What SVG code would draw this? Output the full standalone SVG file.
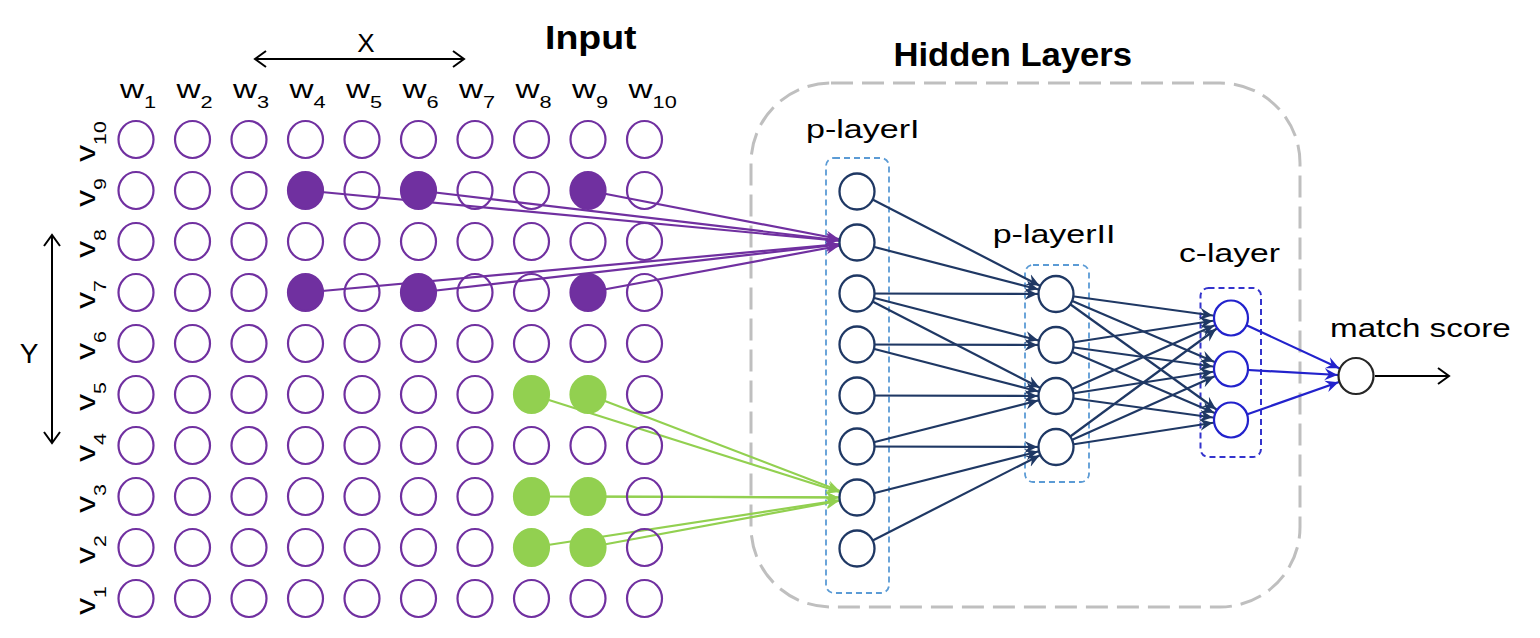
<svg xmlns="http://www.w3.org/2000/svg" width="1540" height="638" viewBox="0 0 1540 638">
<defs>
<style>
.g{fill:none;stroke:#7030a0;stroke-width:2.2}
.fp{fill:#7030a0;stroke:#7030a0;stroke-width:2.2}
.fg{fill:#92d050;stroke:#92d050;stroke-width:2.2}
.h{fill:#fff;stroke:#1f3864;stroke-width:2.3}
.c{fill:#fff;stroke:#2222cc;stroke-width:2.2}
.m{fill:#fff;stroke:#262626;stroke-width:2.2}
.t{font-family:"Liberation Sans",Arial,sans-serif;fill:#000}
.b{font-weight:bold}
.lp{fill:none;stroke:#7030a0;stroke-width:2.2;marker-end:url(#ap)}
.lg{fill:none;stroke:#92d050;stroke-width:2.2;marker-end:url(#ag)}
.ln{fill:none;stroke:#1f3864;stroke-width:2.2;marker-end:url(#an)}
.lb{fill:none;stroke:#2222cc;stroke-width:2.2;marker-end:url(#ab)}
.lk{fill:none;stroke:#000;stroke-width:2}
.box{fill:none;stroke:#5b9bd5;stroke-width:1.8;stroke-dasharray:6 4}
</style>
<marker id="ap" markerUnits="userSpaceOnUse" markerWidth="40" markerHeight="20" refX="31.5" refY="10" orient="auto"><path d="M0,4 L13,10 L0,16 L4.5,10 z" fill="#7030a0"/></marker>
<marker id="ag" markerUnits="userSpaceOnUse" markerWidth="40" markerHeight="20" refX="31.5" refY="10" orient="auto"><path d="M0,4 L13,10 L0,16 L4.5,10 z" fill="#92d050"/></marker>
<marker id="an" markerUnits="userSpaceOnUse" markerWidth="40" markerHeight="20" refX="31.5" refY="10" orient="auto"><path d="M0,4 L13,10 L0,16 L4.5,10 z" fill="#1f3864"/></marker>
<marker id="ab" markerUnits="userSpaceOnUse" markerWidth="40" markerHeight="20" refX="31.5" refY="10" orient="auto"><path d="M0,4 L13,10 L0,16 L4.5,10 z" fill="#2222cc"/></marker>
<marker id="ao" markerUnits="userSpaceOnUse" markerWidth="16" markerHeight="20" refX="12" refY="10" orient="auto-start-reverse"><path d="M1,2 L12,10 L1,18" fill="none" stroke="#000" stroke-width="2"/></marker>
</defs>
<rect width="1540" height="638" fill="#fff"/>

<g id="titles">
<text class="t b" x="545" y="49.3" font-size="33.5" textLength="91.5" lengthAdjust="spacingAndGlyphs">Input</text>
<text class="t b" x="893.5" y="66" font-size="34" textLength="238.5" lengthAdjust="spacingAndGlyphs">Hidden Layers</text>
<text class="t" x="366" y="51.7" font-size="26" text-anchor="middle">X</text>
<text class="t" x="29" y="363" font-size="28" text-anchor="middle">Y</text>
</g>

<g id="axis-arrows">
<path class="lk" d="M255,59 L464,59" marker-start="url(#ao)" marker-end="url(#ao)"/>
<path class="lk" d="M52,235 L52,443" marker-start="url(#ao)" marker-end="url(#ao)"/>
</g>

<g id="w-labels" class="t" font-size="26">
<text transform="translate(120,98.3) scale(1.28,1)">w<tspan font-size="17" dy="10">1</tspan></text>
<text transform="translate(176.5,98.3) scale(1.28,1)">w<tspan font-size="17" dy="10">2</tspan></text>
<text transform="translate(233,98.3) scale(1.28,1)">w<tspan font-size="17" dy="10">3</tspan></text>
<text transform="translate(289.5,98.3) scale(1.28,1)">w<tspan font-size="17" dy="10">4</tspan></text>
<text transform="translate(346,98.3) scale(1.28,1)">w<tspan font-size="17" dy="10">5</tspan></text>
<text transform="translate(402.5,98.3) scale(1.28,1)">w<tspan font-size="17" dy="10">6</tspan></text>
<text transform="translate(459,98.3) scale(1.28,1)">w<tspan font-size="17" dy="10">7</tspan></text>
<text transform="translate(515.5,98.3) scale(1.28,1)">w<tspan font-size="17" dy="10">8</tspan></text>
<text transform="translate(572,98.3) scale(1.28,1)">w<tspan font-size="17" dy="10">9</tspan></text>
<text transform="translate(628.5,98.3) scale(1.28,1)">w<tspan font-size="17" dy="10">10</tspan></text>
</g>

<g id="v-labels" class="t" font-size="27" text-anchor="middle">
<text transform="translate(95,141.5) rotate(-90) scale(1.25,1)">v<tspan font-size="17" dy="11">10</tspan></text>
<text transform="translate(95,192.5) rotate(-90) scale(1.25,1)">v<tspan font-size="17" dy="11">9</tspan></text>
<text transform="translate(95,243.5) rotate(-90) scale(1.25,1)">v<tspan font-size="17" dy="11">8</tspan></text>
<text transform="translate(95,294.5) rotate(-90) scale(1.25,1)">v<tspan font-size="17" dy="11">7</tspan></text>
<text transform="translate(95,345.5) rotate(-90) scale(1.25,1)">v<tspan font-size="17" dy="11">6</tspan></text>
<text transform="translate(95,396.5) rotate(-90) scale(1.25,1)">v<tspan font-size="17" dy="11">5</tspan></text>
<text transform="translate(95,447.5) rotate(-90) scale(1.25,1)">v<tspan font-size="17" dy="11">4</tspan></text>
<text transform="translate(95,498.5) rotate(-90) scale(1.25,1)">v<tspan font-size="17" dy="11">3</tspan></text>
<text transform="translate(95,549.5) rotate(-90) scale(1.25,1)">v<tspan font-size="17" dy="11">2</tspan></text>
<text transform="translate(95,600.5) rotate(-90) scale(1.25,1)">v<tspan font-size="17" dy="11">1</tspan></text>
</g>

<g id="hidden-layers-box">
<rect x="751" y="83" width="549" height="524" rx="80" ry="80" fill="none" stroke="#bfbfbf" stroke-width="3" stroke-dasharray="22 9"/>
</g>
<g id="p-layerI-box">
<rect class="box" x="826" y="158" width="63" height="435" rx="8"/>
<text class="t" x="806" y="138.3" font-size="26" textLength="113.5" lengthAdjust="spacingAndGlyphs">p-layerI</text>
</g>
<g id="p-layerII-box">
<rect class="box" x="1025" y="265" width="64" height="217" rx="8"/>
<text class="t" x="992.7" y="243.3" font-size="26" textLength="122.8" lengthAdjust="spacingAndGlyphs">p-layerII</text>
</g>
<g id="c-layer-box">
<rect x="1200.5" y="288" width="60.5" height="169" rx="8" fill="none" stroke="#3333cc" stroke-width="2" stroke-dasharray="6 4"/>
<text class="t" x="1179" y="261.7" font-size="26" textLength="101" lengthAdjust="spacingAndGlyphs">c-layer</text>
</g>
<g id="match-label">
<text class="t" x="1330" y="336.7" font-size="26" textLength="180.7" lengthAdjust="spacingAndGlyphs">match score</text>
</g>

<g id="connectors">
<path class="lp" d="M305.5,190.5 L857,242.5"/>
<path class="lp" d="M418.5,190.5 L857,242.5"/>
<path class="lp" d="M588,190.5 L857,242.5"/>
<path class="lp" d="M305.5,292.5 L857,242.5"/>
<path class="lp" d="M418.5,292.5 L857,242.5"/>
<path class="lp" d="M588,292.5 L857,242.5"/>
<path class="lg" d="M531.5,394.5 L857,497.5"/>
<path class="lg" d="M588,394.5 L857,497.5"/>
<path class="lg" d="M531.5,496.5 L857,497.5"/>
<path class="lg" d="M588,496.5 L857,497.5"/>
<path class="lg" d="M531.5,547.5 L857,497.5"/>
<path class="lg" d="M588,547.5 L857,497.5"/>
<path class="ln" d="M857,191.5 L1056,294"/>
<path class="ln" d="M857,242.5 L1056,294"/>
<path class="ln" d="M857,293.5 L1056,294"/>
<path class="ln" d="M857,293.5 L1056,345"/>
<path class="ln" d="M857,293.5 L1056,396"/>
<path class="ln" d="M857,344.5 L1056,345"/>
<path class="ln" d="M857,344.5 L1056,396"/>
<path class="ln" d="M857,395.5 L1056,396"/>
<path class="ln" d="M857,446.5 L1056,396"/>
<path class="ln" d="M857,446.5 L1056,447"/>
<path class="ln" d="M857,497.5 L1056,447"/>
<path class="ln" d="M857,548.5 L1056,447"/>
<path class="ln" d="M1056,294 L1231,318"/>
<path class="ln" d="M1056,294 L1231,369"/>
<path class="ln" d="M1056,294 L1231,420"/>
<path class="ln" d="M1056,345 L1231,318"/>
<path class="ln" d="M1056,345 L1231,369"/>
<path class="ln" d="M1056,345 L1231,420"/>
<path class="ln" d="M1056,396 L1231,318"/>
<path class="ln" d="M1056,396 L1231,369"/>
<path class="ln" d="M1056,396 L1231,420"/>
<path class="ln" d="M1056,447 L1231,318"/>
<path class="ln" d="M1056,447 L1231,369"/>
<path class="ln" d="M1056,447 L1231,420"/>
<path class="lb" d="M1231,318 L1356,376"/>
<path class="lb" d="M1231,369 L1356,376"/>
<path class="lb" d="M1231,420 L1356,376"/>
<path class="lk" d="M1375,376 L1449,376" marker-end="url(#ao)"/>
</g>

<g id="grid">
<g id="w1v10"><ellipse class="g" cx="136" cy="139.5" rx="17.5" ry="18.5"/></g>
<g id="w2v10"><ellipse class="g" cx="192.5" cy="139.5" rx="17.5" ry="18.5"/></g>
<g id="w3v10"><ellipse class="g" cx="249" cy="139.5" rx="17.5" ry="18.5"/></g>
<g id="w4v10"><ellipse class="g" cx="305.5" cy="139.5" rx="17.5" ry="18.5"/></g>
<g id="w5v10"><ellipse class="g" cx="362" cy="139.5" rx="17.5" ry="18.5"/></g>
<g id="w6v10"><ellipse class="g" cx="418.5" cy="139.5" rx="17.5" ry="18.5"/></g>
<g id="w7v10"><ellipse class="g" cx="475" cy="139.5" rx="17.5" ry="18.5"/></g>
<g id="w8v10"><ellipse class="g" cx="531.5" cy="139.5" rx="17.5" ry="18.5"/></g>
<g id="w9v10"><ellipse class="g" cx="588" cy="139.5" rx="17.5" ry="18.5"/></g>
<g id="w10v10"><ellipse class="g" cx="644.5" cy="139.5" rx="17.5" ry="18.5"/></g>

<g id="w1v9"><ellipse class="g" cx="136" cy="190.5" rx="17.5" ry="18.5"/></g>
<g id="w2v9"><ellipse class="g" cx="192.5" cy="190.5" rx="17.5" ry="18.5"/></g>
<g id="w3v9"><ellipse class="g" cx="249" cy="190.5" rx="17.5" ry="18.5"/></g>
<g id="w4v9"><ellipse class="fp" cx="305.5" cy="190.5" rx="17.5" ry="18.5"/></g>
<g id="w5v9"><ellipse class="g" cx="362" cy="190.5" rx="17.5" ry="18.5"/></g>
<g id="w6v9"><ellipse class="fp" cx="418.5" cy="190.5" rx="17.5" ry="18.5"/></g>
<g id="w7v9"><ellipse class="g" cx="475" cy="190.5" rx="17.5" ry="18.5"/></g>
<g id="w8v9"><ellipse class="g" cx="531.5" cy="190.5" rx="17.5" ry="18.5"/></g>
<g id="w9v9"><ellipse class="fp" cx="588" cy="190.5" rx="17.5" ry="18.5"/></g>
<g id="w10v9"><ellipse class="g" cx="644.5" cy="190.5" rx="17.5" ry="18.5"/></g>

<g id="w1v8"><ellipse class="g" cx="136" cy="241.5" rx="17.5" ry="18.5"/></g>
<g id="w2v8"><ellipse class="g" cx="192.5" cy="241.5" rx="17.5" ry="18.5"/></g>
<g id="w3v8"><ellipse class="g" cx="249" cy="241.5" rx="17.5" ry="18.5"/></g>
<g id="w4v8"><ellipse class="g" cx="305.5" cy="241.5" rx="17.5" ry="18.5"/></g>
<g id="w5v8"><ellipse class="g" cx="362" cy="241.5" rx="17.5" ry="18.5"/></g>
<g id="w6v8"><ellipse class="g" cx="418.5" cy="241.5" rx="17.5" ry="18.5"/></g>
<g id="w7v8"><ellipse class="g" cx="475" cy="241.5" rx="17.5" ry="18.5"/></g>
<g id="w8v8"><ellipse class="g" cx="531.5" cy="241.5" rx="17.5" ry="18.5"/></g>
<g id="w9v8"><ellipse class="g" cx="588" cy="241.5" rx="17.5" ry="18.5"/></g>
<g id="w10v8"><ellipse class="g" cx="644.5" cy="241.5" rx="17.5" ry="18.5"/></g>

<g id="w1v7"><ellipse class="g" cx="136" cy="292.5" rx="17.5" ry="18.5"/></g>
<g id="w2v7"><ellipse class="g" cx="192.5" cy="292.5" rx="17.5" ry="18.5"/></g>
<g id="w3v7"><ellipse class="g" cx="249" cy="292.5" rx="17.5" ry="18.5"/></g>
<g id="w4v7"><ellipse class="fp" cx="305.5" cy="292.5" rx="17.5" ry="18.5"/></g>
<g id="w5v7"><ellipse class="g" cx="362" cy="292.5" rx="17.5" ry="18.5"/></g>
<g id="w6v7"><ellipse class="fp" cx="418.5" cy="292.5" rx="17.5" ry="18.5"/></g>
<g id="w7v7"><ellipse class="g" cx="475" cy="292.5" rx="17.5" ry="18.5"/></g>
<g id="w8v7"><ellipse class="g" cx="531.5" cy="292.5" rx="17.5" ry="18.5"/></g>
<g id="w9v7"><ellipse class="fp" cx="588" cy="292.5" rx="17.5" ry="18.5"/></g>
<g id="w10v7"><ellipse class="g" cx="644.5" cy="292.5" rx="17.5" ry="18.5"/></g>

<g id="w1v6"><ellipse class="g" cx="136" cy="343.5" rx="17.5" ry="18.5"/></g>
<g id="w2v6"><ellipse class="g" cx="192.5" cy="343.5" rx="17.5" ry="18.5"/></g>
<g id="w3v6"><ellipse class="g" cx="249" cy="343.5" rx="17.5" ry="18.5"/></g>
<g id="w4v6"><ellipse class="g" cx="305.5" cy="343.5" rx="17.5" ry="18.5"/></g>
<g id="w5v6"><ellipse class="g" cx="362" cy="343.5" rx="17.5" ry="18.5"/></g>
<g id="w6v6"><ellipse class="g" cx="418.5" cy="343.5" rx="17.5" ry="18.5"/></g>
<g id="w7v6"><ellipse class="g" cx="475" cy="343.5" rx="17.5" ry="18.5"/></g>
<g id="w8v6"><ellipse class="g" cx="531.5" cy="343.5" rx="17.5" ry="18.5"/></g>
<g id="w9v6"><ellipse class="g" cx="588" cy="343.5" rx="17.5" ry="18.5"/></g>
<g id="w10v6"><ellipse class="g" cx="644.5" cy="343.5" rx="17.5" ry="18.5"/></g>

<g id="w1v5"><ellipse class="g" cx="136" cy="394.5" rx="17.5" ry="18.5"/></g>
<g id="w2v5"><ellipse class="g" cx="192.5" cy="394.5" rx="17.5" ry="18.5"/></g>
<g id="w3v5"><ellipse class="g" cx="249" cy="394.5" rx="17.5" ry="18.5"/></g>
<g id="w4v5"><ellipse class="g" cx="305.5" cy="394.5" rx="17.5" ry="18.5"/></g>
<g id="w5v5"><ellipse class="g" cx="362" cy="394.5" rx="17.5" ry="18.5"/></g>
<g id="w6v5"><ellipse class="g" cx="418.5" cy="394.5" rx="17.5" ry="18.5"/></g>
<g id="w7v5"><ellipse class="g" cx="475" cy="394.5" rx="17.5" ry="18.5"/></g>
<g id="w8v5"><ellipse class="fg" cx="531.5" cy="394.5" rx="17.5" ry="18.5"/></g>
<g id="w9v5"><ellipse class="fg" cx="588" cy="394.5" rx="17.5" ry="18.5"/></g>
<g id="w10v5"><ellipse class="g" cx="644.5" cy="394.5" rx="17.5" ry="18.5"/></g>

<g id="w1v4"><ellipse class="g" cx="136" cy="445.5" rx="17.5" ry="18.5"/></g>
<g id="w2v4"><ellipse class="g" cx="192.5" cy="445.5" rx="17.5" ry="18.5"/></g>
<g id="w3v4"><ellipse class="g" cx="249" cy="445.5" rx="17.5" ry="18.5"/></g>
<g id="w4v4"><ellipse class="g" cx="305.5" cy="445.5" rx="17.5" ry="18.5"/></g>
<g id="w5v4"><ellipse class="g" cx="362" cy="445.5" rx="17.5" ry="18.5"/></g>
<g id="w6v4"><ellipse class="g" cx="418.5" cy="445.5" rx="17.5" ry="18.5"/></g>
<g id="w7v4"><ellipse class="g" cx="475" cy="445.5" rx="17.5" ry="18.5"/></g>
<g id="w8v4"><ellipse class="g" cx="531.5" cy="445.5" rx="17.5" ry="18.5"/></g>
<g id="w9v4"><ellipse class="g" cx="588" cy="445.5" rx="17.5" ry="18.5"/></g>
<g id="w10v4"><ellipse class="g" cx="644.5" cy="445.5" rx="17.5" ry="18.5"/></g>

<g id="w1v3"><ellipse class="g" cx="136" cy="496.5" rx="17.5" ry="18.5"/></g>
<g id="w2v3"><ellipse class="g" cx="192.5" cy="496.5" rx="17.5" ry="18.5"/></g>
<g id="w3v3"><ellipse class="g" cx="249" cy="496.5" rx="17.5" ry="18.5"/></g>
<g id="w4v3"><ellipse class="g" cx="305.5" cy="496.5" rx="17.5" ry="18.5"/></g>
<g id="w5v3"><ellipse class="g" cx="362" cy="496.5" rx="17.5" ry="18.5"/></g>
<g id="w6v3"><ellipse class="g" cx="418.5" cy="496.5" rx="17.5" ry="18.5"/></g>
<g id="w7v3"><ellipse class="g" cx="475" cy="496.5" rx="17.5" ry="18.5"/></g>
<g id="w8v3"><ellipse class="fg" cx="531.5" cy="496.5" rx="17.5" ry="18.5"/></g>
<g id="w9v3"><ellipse class="fg" cx="588" cy="496.5" rx="17.5" ry="18.5"/></g>
<g id="w10v3"><ellipse class="g" cx="644.5" cy="496.5" rx="17.5" ry="18.5"/></g>

<g id="w1v2"><ellipse class="g" cx="136" cy="547.5" rx="17.5" ry="18.5"/></g>
<g id="w2v2"><ellipse class="g" cx="192.5" cy="547.5" rx="17.5" ry="18.5"/></g>
<g id="w3v2"><ellipse class="g" cx="249" cy="547.5" rx="17.5" ry="18.5"/></g>
<g id="w4v2"><ellipse class="g" cx="305.5" cy="547.5" rx="17.5" ry="18.5"/></g>
<g id="w5v2"><ellipse class="g" cx="362" cy="547.5" rx="17.5" ry="18.5"/></g>
<g id="w6v2"><ellipse class="g" cx="418.5" cy="547.5" rx="17.5" ry="18.5"/></g>
<g id="w7v2"><ellipse class="g" cx="475" cy="547.5" rx="17.5" ry="18.5"/></g>
<g id="w8v2"><ellipse class="fg" cx="531.5" cy="547.5" rx="17.5" ry="18.5"/></g>
<g id="w9v2"><ellipse class="fg" cx="588" cy="547.5" rx="17.5" ry="18.5"/></g>
<g id="w10v2"><ellipse class="g" cx="644.5" cy="547.5" rx="17.5" ry="18.5"/></g>

<g id="w1v1"><ellipse class="g" cx="136" cy="598.5" rx="17.5" ry="18.5"/></g>
<g id="w2v1"><ellipse class="g" cx="192.5" cy="598.5" rx="17.5" ry="18.5"/></g>
<g id="w3v1"><ellipse class="g" cx="249" cy="598.5" rx="17.5" ry="18.5"/></g>
<g id="w4v1"><ellipse class="g" cx="305.5" cy="598.5" rx="17.5" ry="18.5"/></g>
<g id="w5v1"><ellipse class="g" cx="362" cy="598.5" rx="17.5" ry="18.5"/></g>
<g id="w6v1"><ellipse class="g" cx="418.5" cy="598.5" rx="17.5" ry="18.5"/></g>
<g id="w7v1"><ellipse class="g" cx="475" cy="598.5" rx="17.5" ry="18.5"/></g>
<g id="w8v1"><ellipse class="g" cx="531.5" cy="598.5" rx="17.5" ry="18.5"/></g>
<g id="w9v1"><ellipse class="g" cx="588" cy="598.5" rx="17.5" ry="18.5"/></g>
<g id="w10v1"><ellipse class="g" cx="644.5" cy="598.5" rx="17.5" ry="18.5"/></g>
</g>

<g id="p-layerI">
<g id="p1-1"><ellipse class="h" cx="857" cy="191.5" rx="17.5" ry="18"/></g>
<g id="p1-2"><ellipse class="h" cx="857" cy="242.5" rx="17.5" ry="18"/></g>
<g id="p1-3"><ellipse class="h" cx="857" cy="293.5" rx="17.5" ry="18"/></g>
<g id="p1-4"><ellipse class="h" cx="857" cy="344.5" rx="17.5" ry="18"/></g>
<g id="p1-5"><ellipse class="h" cx="857" cy="395.5" rx="17.5" ry="18"/></g>
<g id="p1-6"><ellipse class="h" cx="857" cy="446.5" rx="17.5" ry="18"/></g>
<g id="p1-7"><ellipse class="h" cx="857" cy="497.5" rx="17.5" ry="18"/></g>
<g id="p1-8"><ellipse class="h" cx="857" cy="548.5" rx="17.5" ry="18"/></g>
</g>
<g id="p-layerII">
<g id="p2-1"><ellipse class="h" cx="1056" cy="294" rx="17.5" ry="18"/></g>
<g id="p2-2"><ellipse class="h" cx="1056" cy="345" rx="17.5" ry="18"/></g>
<g id="p2-3"><ellipse class="h" cx="1056" cy="396" rx="17.5" ry="18"/></g>
<g id="p2-4"><ellipse class="h" cx="1056" cy="447" rx="17.5" ry="18"/></g>
</g>
<g id="c-layer">
<g id="c-1"><ellipse class="c" cx="1231" cy="318" rx="17" ry="17.5"/></g>
<g id="c-2"><ellipse class="c" cx="1231" cy="369" rx="17" ry="17.5"/></g>
<g id="c-3"><ellipse class="c" cx="1231" cy="420" rx="17" ry="17.5"/></g>
</g>
<g id="match-score">
<ellipse class="m" cx="1356" cy="376" rx="17.5" ry="18"/>
</g>
</svg>
